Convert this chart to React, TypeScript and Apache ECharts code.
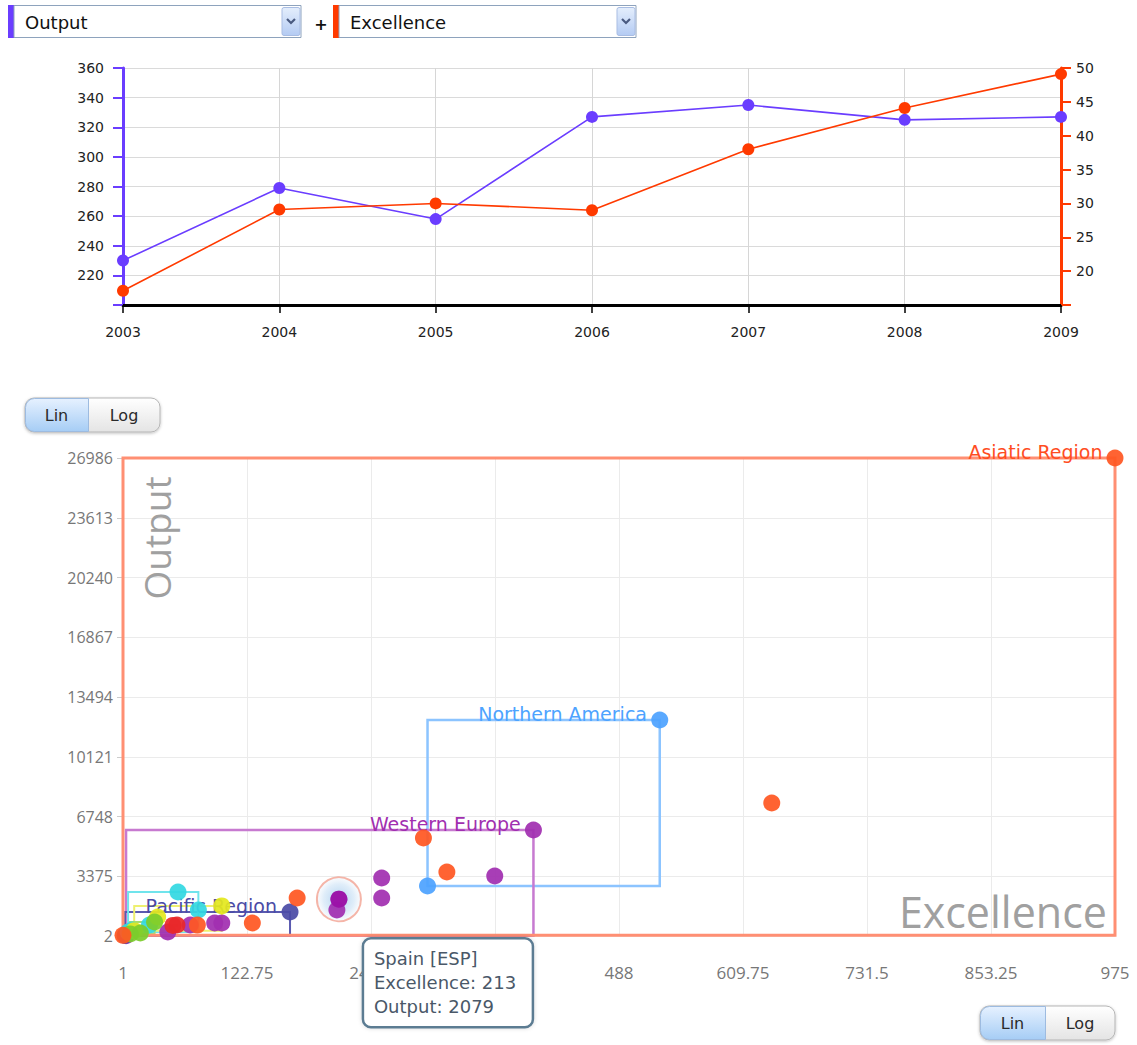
import React, { useEffect, useRef } from 'react';
import * as echarts from 'echarts';

// ---------- Top chart data ----------
const years = ['2003', '2004', '2005', '2006', '2007', '2008', '2009'];
const outputTrend = [230, 279, 258, 327, 335, 325, 327];
const excellenceTrend = [17.1, 29.1, 30, 29, 38, 44.1, 49.1];

// ---------- Bottom chart data ----------
const excellenceTicks = [1, 122.75, 244.5, 366.25, 488, 609.75, 731.5, 853.25, 975];
const outputTicks = [2, 3375, 6748, 10121, 13494, 16867, 20240, 23613, 26986];

// [excellence, output]
const asiaticRegion = [[975, 26986], [638, 7510], [296, 5534], [319, 3615], [172, 2147], [128, 736], [74, 621], [1, 40]];
const northernAmerica = [[528, 12196], [300, 2825]];
const westernEurope = [[404, 5986], [366, 3389], [255, 3276], [255, 2147], [211, 1470], [98, 736], [91, 736], [67, 623], [45, 228], [4, 20], [213, 2079]];
const pacificRegion = [[165, 1357], [3, 30]];
const latinAmerica = [[55, 2486], [75, 1470], [27, 623], [10, 341], [6, 228]];
const easternEurope = [[98, 1700], [35, 1075], [12, 300]];
const africa = [[18, 171], [32, 792], [8, 120]];
const middleEast = [[54, 623], [50, 600]];

const regionNames = ['Northern America', 'Western Europe', 'Pacific Region', 'Latin America', 'Eastern Europe', 'Africa', 'Middle East', 'Asiatic Region'];
const regionData = [northernAmerica, westernEurope, pacificRegion, latinAmerica, easternEurope, africa, middleEast, asiaticRegion];
const regionLabelShown = [true, true, true, false, false, false, false, true];

const highlightName = 'Spain [ESP]';
const highlightValue = [213, 2079];

// ---------- styles ----------
const regionStyles = [
  { point: '#4da3ff', box: '#8cc4ff', label: '#4da3ff', width: 2.5 },
  { point: '#a12fb0', box: '#c77ad0', label: '#a12fb0', width: 2.5 },
  { point: '#4b4ba6', box: '#5a5ab0', label: '#4b4ba6', width: 2 },
  { point: '#34d8e2', box: '#70e4ec', label: '#34d8e2', width: 2 },
  { point: '#e4e81e', box: '#eef070', label: '#e4e81e', width: 2 },
  { point: '#7ccc2c', box: '#a8dc70', label: '#7ccc2c', width: 2 },
  { point: '#e8282a', box: '#f07070', label: '#e8282a', width: 2 },
  { point: '#ff5722', box: '#ff8f73', label: '#ff4d1f', width: 3 },
];
const PURPLE = '#6a3dff';
const ORANGE = '#ff3a00';
const FONT_TOP = '"DejaVu Sans", sans-serif';
const FONT_BOTTOM = '"Open Sans", sans-serif';
const FONT_WIDE = '"DejaVu Sans", sans-serif';

function dropdown(x: number, barColor: string, label: string, width: number) {
  const ax = width - 13;
  return {
    type: 'group', x, y: 5,
    children: [
      { type: 'rect', z: 100, shape: { x: 0, y: 0, width: 6, height: 33 }, style: { fill: barColor } },
      { type: 'rect', z: 100, shape: { x: 6, y: 0.5, width, height: 32 }, style: { fill: '#fff', stroke: '#8ea3bd', lineWidth: 1 } },
      { type: 'text', z: 101, x: 17, y: 17, style: { text: label, font: `18px ${FONT_WIDE}`, fill: '#111', verticalAlign: 'middle' } },
      {
        type: 'rect', z: 101, shape: { x: ax, y: 2.5, width: 18, height: 28, r: 2 },
        style: {
          fill: new echarts.graphic.LinearGradient(0, 0, 0, 1, [{ offset: 0, color: '#e4eefc' }, { offset: 1, color: '#b4cbf3' }]),
          stroke: '#a9bde3', lineWidth: 1,
        },
      },
      { type: 'polyline', z: 102, shape: { points: [[ax + 5, 14], [ax + 9, 18], [ax + 13, 14]] }, style: { stroke: '#4a5a80', lineWidth: 2.2, fill: null } },
    ],
  };
}

function linLog(x: number, y: number, w: number, split: number) {
  const h = 34;
  return {
    type: 'group', x, y,
    children: [
      {
        type: 'rect', z: 100, shape: { x: 0, y: 0, width: w, height: h, r: 9 },
        style: {
          fill: new echarts.graphic.LinearGradient(0, 0, 0, 1, [{ offset: 0, color: '#ffffff' }, { offset: 1, color: '#e4e4e4' }]),
          stroke: '#b5b5b5', lineWidth: 1, shadowBlur: 3, shadowColor: 'rgba(0,0,0,0.25)', shadowOffsetY: 1,
        },
      },
      {
        type: 'rect', z: 101, shape: { x: 0.5, y: 0.5, width: split, height: h - 1, r: [9, 0, 0, 9] },
        style: {
          fill: new echarts.graphic.LinearGradient(0, 0, 0, 1, [{ offset: 0, color: '#e6f1ff' }, { offset: 1, color: '#a6cdf5' }]),
          stroke: '#9dbbe0', lineWidth: 1,
        },
      },
      { type: 'text', z: 102, x: split / 2, y: h / 2, style: { text: 'Lin', font: `16px ${FONT_WIDE}`, fill: '#2a2a2a', align: 'center', verticalAlign: 'middle' } },
      { type: 'text', z: 102, x: split + (w - split) / 2, y: h / 2, style: { text: 'Log', font: `16px ${FONT_WIDE}`, fill: '#2a2a2a', align: 'center', verticalAlign: 'middle' } },
    ],
  };
}

export default function App() {
  const ref = useRef<HTMLDivElement>(null);

  useEffect(() => {
    if (!ref.current) return;
    const chart = echarts.init(ref.current, undefined, { renderer: 'svg' });

    const regionSeries = regionData.map((pts, i) => {
      const xs = pts.map((p) => p[0]);
      const ys = pts.map((p) => p[1]);
      const st = regionStyles[i];
      return {
        type: 'scatter',
        name: regionNames[i],
        xAxisIndex: 1,
        yAxisIndex: 2,
        data: pts,
        symbolSize: 17,
        z: 2,
        itemStyle: { color: st.point, opacity: 0.93 },
        markArea: {
          silent: true,
          itemStyle: { color: 'rgba(0,0,0,0)', borderColor: st.box, borderWidth: st.width },
          label: {
            show: regionLabelShown[i],
            position: ['100%', 0],
            align: 'right',
            verticalAlign: 'bottom',
            offset: [-14, 5],
            color: st.label,
            fontSize: 19,
            fontFamily: FONT_WIDE,
          },
          data: [[
            { name: regionNames[i], coord: [Math.min(...xs), Math.min(...ys)] },
            { coord: [Math.max(...xs), Math.max(...ys)] },
          ]],
        },
      };
    });

    const option: any = {
      animation: false,
      grid: [
        { left: 123, right: 76, top: 68, bottom: 740 },
        { left: 123, right: 22, top: 458, bottom: 109 },
      ],
      xAxis: [
        {
          gridIndex: 0, type: 'category', data: years, boundaryGap: false,
          axisLine: { lineStyle: { color: '#000', width: 3 } },
          axisTick: { show: true, length: 8, lineStyle: { color: '#000', width: 1.5 } },
          axisLabel: { color: '#222', fontSize: 14, fontFamily: FONT_TOP, margin: 20 },
          splitLine: { show: true, lineStyle: { color: '#d6d6d6', width: 1 } },
        },
        {
          gridIndex: 1, type: 'value', min: 1, max: 975,
          axisLine: { show: false },
          axisTick: { show: false, customValues: excellenceTicks },
          axisLabel: { customValues: excellenceTicks, formatter: (v: number) => String(v), color: '#777', fontSize: 17, fontFamily: FONT_BOTTOM, margin: 28 },
          splitLine: { show: true, lineStyle: { color: '#ebebeb', width: 1 } },
        },
      ],
      yAxis: [
        {
          gridIndex: 0, type: 'value', min: 200, max: 360, interval: 20, position: 'left',
          axisLine: { show: true, lineStyle: { color: PURPLE, width: 3 } },
          axisTick: { show: true, length: 10, lineStyle: { color: PURPLE, width: 2 } },
          axisLabel: { color: '#222', fontSize: 14, fontFamily: FONT_TOP, margin: 19, formatter: (v: number) => (v === 200 ? '' : String(v)) },
          splitLine: { show: true, lineStyle: { color: '#dadada', width: 1 } },
        },
        {
          gridIndex: 0, type: 'value', min: 15, max: 50, interval: 5, position: 'right',
          axisLine: { show: true, lineStyle: { color: ORANGE, width: 3 } },
          axisTick: { show: true, length: 10, lineStyle: { color: ORANGE, width: 2 } },
          axisLabel: { color: '#222', fontSize: 14, fontFamily: FONT_TOP, margin: 15, formatter: (v: number) => (v === 15 ? '' : String(v)) },
          splitLine: { show: false },
        },
        {
          gridIndex: 1, type: 'value', min: 2, max: 26986,
          axisLine: { show: false },
          axisTick: { show: true, length: 6, lineStyle: { color: '#cccccc' }, customValues: outputTicks },
          axisLabel: { customValues: outputTicks, formatter: (v: number) => String(v), color: '#777', fontSize: 16, fontFamily: FONT_BOTTOM, margin: 10 },
          splitLine: { show: true, lineStyle: { color: '#ebebeb', width: 1 } },
        },
      ],
      series: [
        {
          type: 'line', name: 'Output', xAxisIndex: 0, yAxisIndex: 0, data: outputTrend,
          symbol: 'circle', symbolSize: 12, z: 3,
          lineStyle: { color: PURPLE, width: 1.6 }, itemStyle: { color: PURPLE },
        },
        {
          type: 'line', name: 'Excellence', xAxisIndex: 0, yAxisIndex: 1, data: excellenceTrend,
          symbol: 'circle', symbolSize: 12, z: 4,
          lineStyle: { color: ORANGE, width: 1.6 }, itemStyle: { color: ORANGE },
        },
        {
          type: 'scatter', name: 'highlight-halo', xAxisIndex: 1, yAxisIndex: 2,
          data: [highlightValue], symbolSize: 44, z: 1, silent: true,
          itemStyle: {
            color: new echarts.graphic.RadialGradient(0.5, 0.5, 0.5, [
              { offset: 0, color: 'rgba(150,195,235,0.95)' },
              { offset: 0.7, color: 'rgba(200,224,245,0.7)' },
              { offset: 1, color: 'rgba(235,242,250,0.4)' },
            ]),
            borderColor: '#f2a392', borderWidth: 2,
          },
        },
        ...regionSeries,
        {
          type: 'scatter', name: highlightName, xAxisIndex: 1, yAxisIndex: 2,
          data: [highlightValue], symbolSize: 17, z: 6,
          itemStyle: { color: '#9a0ca6' },
        },
      ],
    };

    chart.setOption(option);

    const [hx, hy] = chart.convertToPixel({ gridIndex: 1 } as any, highlightValue) as number[];
    const tipX = hx + 24;
    const tipY = hy + 39;

    chart.setOption({
      graphic: {
        elements: [
          dropdown(8, '#6a3dff', 'Output', 287),
          { type: 'text', x: 321, y: 24, z: 100, style: { text: '+', font: `bold 16px ${FONT_TOP}`, fill: '#111', align: 'center', verticalAlign: 'middle' } },
          dropdown(333, '#ff3a00', 'Excellence', 297),
          linLog(25, 398, 135, 63),
          linLog(980, 1006, 135, 65),
          {
            type: 'text', x: 156, y: 538, rotation: Math.PI / 2, z: 10, silent: true,
            style: { text: 'Output', font: `37px ${FONT_BOTTOM}`, fill: '#a0a0a0', align: 'center', verticalAlign: 'middle' },
          },
          {
            type: 'text', x: 1107, y: 911, z: 10, silent: true,
            style: { text: 'Excellence', font: `43px ${FONT_BOTTOM}`, fill: '#a0a0a0', align: 'right', verticalAlign: 'middle' },
          },
          {
            type: 'group', x: tipX, y: tipY,
            children: [
              {
                type: 'rect', z: 200, shape: { x: 0, y: 0, width: 170, height: 89, r: 8 },
                style: { fill: '#ffffff', stroke: '#5b7b92', lineWidth: 2.5, shadowBlur: 4, shadowColor: 'rgba(0,0,0,0.15)' },
              },
              {
                type: 'text', z: 201, x: 11, y: 8,
                style: { text: `${highlightName}\nExcellence: ${highlightValue[0]}\nOutput: ${highlightValue[1]}`, font: `18px ${FONT_WIDE}`, lineHeight: 24, fill: '#4a5868' },
              },
            ],
          },
        ],
      },
    });

    return () => chart.dispose();
  }, []);

  return <div ref={ref} style={{ position: 'absolute', left: 0, top: 0, width: 1137, height: 1045 }} />;
}
